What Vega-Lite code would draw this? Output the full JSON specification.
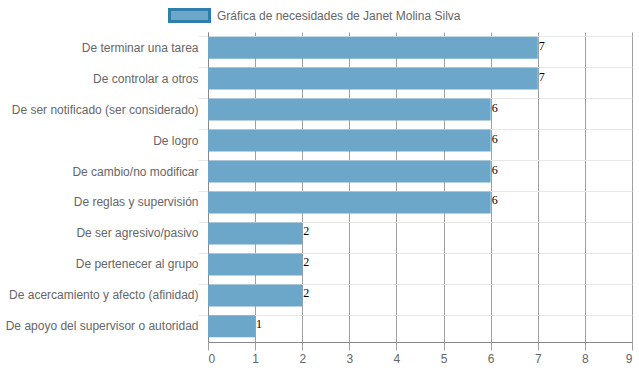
{
  "$schema": "https://vega.github.io/schema/vega-lite/v6.json",
  "width": 424,
  "height": 310,
  "autosize": {"type": "none"},
  "padding": {"left": 208, "top": 32, "right": 7, "bottom": 30},
  "background": "white",
  "config": {
    "view": {"stroke": null},
    "font": "Liberation Sans"
  },
  "data": {
    "values": [
      {"necesidad": "De terminar una tarea", "valor": 7, "serie": "Gráfica de necesidades de Janet Molina Silva"},
      {"necesidad": "De controlar a otros", "valor": 7, "serie": "Gráfica de necesidades de Janet Molina Silva"},
      {"necesidad": "De ser notificado (ser considerado)", "valor": 6, "serie": "Gráfica de necesidades de Janet Molina Silva"},
      {"necesidad": "De logro", "valor": 6, "serie": "Gráfica de necesidades de Janet Molina Silva"},
      {"necesidad": "De cambio/no modificar", "valor": 6, "serie": "Gráfica de necesidades de Janet Molina Silva"},
      {"necesidad": "De reglas y supervisión", "valor": 6, "serie": "Gráfica de necesidades de Janet Molina Silva"},
      {"necesidad": "De ser agresivo/pasivo", "valor": 2, "serie": "Gráfica de necesidades de Janet Molina Silva"},
      {"necesidad": "De pertenecer al grupo", "valor": 2, "serie": "Gráfica de necesidades de Janet Molina Silva"},
      {"necesidad": "De acercamiento y afecto (afinidad)", "valor": 2, "serie": "Gráfica de necesidades de Janet Molina Silva"},
      {"necesidad": "De apoyo del supervisor o autoridad", "valor": 1, "serie": "Gráfica de necesidades de Janet Molina Silva"}
    ]
  },
  "encoding": {
    "y": {
      "field": "necesidad",
      "type": "nominal",
      "sort": null,
      "scale": {"paddingInner": 0.29, "paddingOuter": 0.15},
      "axis": {
        "title": null,
        "bandPosition": 0,
        "grid": true,
        "gridColor": "#e8e8e8",
        "gridWidth": 1,
        "tickColor": "#e8e8e8",
        "tickSize": 10,
        "labelPadding": 0,
        "labelFontSize": 12,
        "labelColor": "#666666",
        "labelFont": "Liberation Sans",
        "domainColor": "#888888",
        "labelLimit": 300
      }
    },
    "x": {
      "field": "valor",
      "type": "quantitative",
      "scale": {"domain": [0, 9], "nice": false},
      "axis": {
        "title": null,
        "values": [0, 1, 2, 3, 4, 5, 6, 7, 8, 9],
        "labelOverlap": false,
        "grid": true,
        "gridColor": "#a0a0a0",
        "tickColor": "#a0a0a0",
        "tickSize": 8,
        "labelFontSize": 12,
        "labelColor": "#666666",
        "labelFont": "Liberation Sans",
        "labelPadding": 3,
        "domainColor": "#888888"
      }
    }
  },
  "layer": [
    {
      "mark": {"type": "bar", "opacity": 1},
      "encoding": {
        "color": {
          "field": "serie",
          "type": "nominal",
          "scale": {"range": ["#6ca6c8"]},
          "legend": {
            "title": null,
            "orient": "none",
            "legendX": -40,
            "legendY": -38,
            "symbolType": "M-1,-0.3H1V0.3H-1Z",
            "symbolSize": 1600,
            "symbolStrokeColor": "#2e7dab",
            "symbolStrokeWidth": 3,
            "symbolOpacity": 1,
            "labelFont": "Liberation Sans",
            "labelFontSize": 12,
            "labelColor": "#666666",
            "labelOffset": 6,
            "labelLimit": 400
          }
        }
      }
    },
    {
      "mark": {"type": "text", "align": "left", "baseline": "middle", "dx": 1, "dy": -2, "font": "Liberation Serif", "fontSize": 12, "color": "#000000"},
      "encoding": {
        "text": {"field": "valor", "type": "quantitative"}
      }
    }
  ]
}
